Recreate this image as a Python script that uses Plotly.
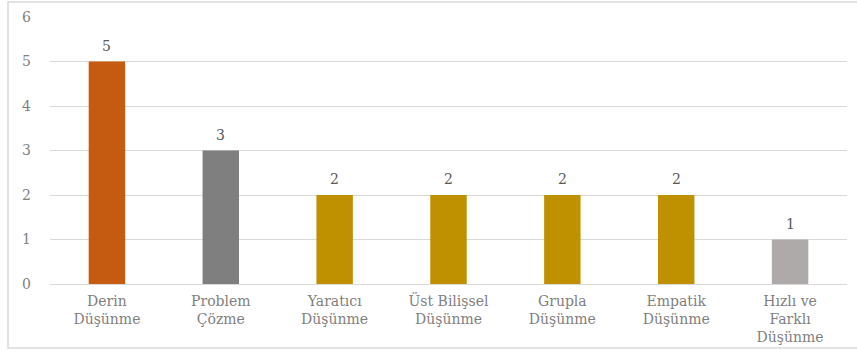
import plotly.graph_objects as go

categories = ["Derin<br>Düşünme", "Problem<br>Çözme", "Yaratıcı<br>Düşünme", "Üst Bilişsel<br>Düşünme",
              "Grupla<br>Düşünme", "Empatik<br>Düşünme", "Hızlı ve<br>Farklı<br>Düşünme"]
values = [5, 3, 2, 2, 2, 2, 1]
colors = ["#C55A11", "#7F7F7F", "#BF9000", "#BF9000", "#BF9000", "#BF9000", "#AEAAAA"]

font_family = "DejaVu Serif"

fig = go.Figure(go.Bar(
    x=categories, y=values, marker=dict(color=colors, line=dict(width=0)),
    cliponaxis=False,
))

for c, v in zip(categories, values):
    fig.add_annotation(x=c, y=v, text=str(v), showarrow=False, yanchor="bottom", yshift=6,
                       font=dict(family=font_family, size=14, color="#595959"))

fig.update_layout(
    width=857, height=353,
    margin=dict(l=50, r=10, t=17, b=69),
    paper_bgcolor="white", plot_bgcolor="white",
    bargap=0.68, showlegend=False,
    font=dict(family=font_family, size=14, color="#7F7F7F"),
    xaxis=dict(showgrid=False, showline=False, ticks="", tickfont=dict(size=14, color="#7F7F7F"),
               ticklabelstandoff=7, automargin=False),
    yaxis=dict(range=[0, 6], dtick=1, showgrid=True, gridcolor="#D9D9D9", gridwidth=1,
               zeroline=True, zerolinecolor="#D9D9D9", zerolinewidth=1, showline=False,
               ticks="", tickfont=dict(size=14, color="#7F7F7F"), ticklabelstandoff=18,
               automargin=False),
    shapes=[dict(type="rect", xref="paper", yref="paper", x0=-0.0527, x1=1.03, y0=-0.24, y1=1.056,
                 line=dict(color="#D9D9D9", width=1.5), fillcolor="rgba(0,0,0,0)", layer="below")],
)

fig.write_html("out.html")
